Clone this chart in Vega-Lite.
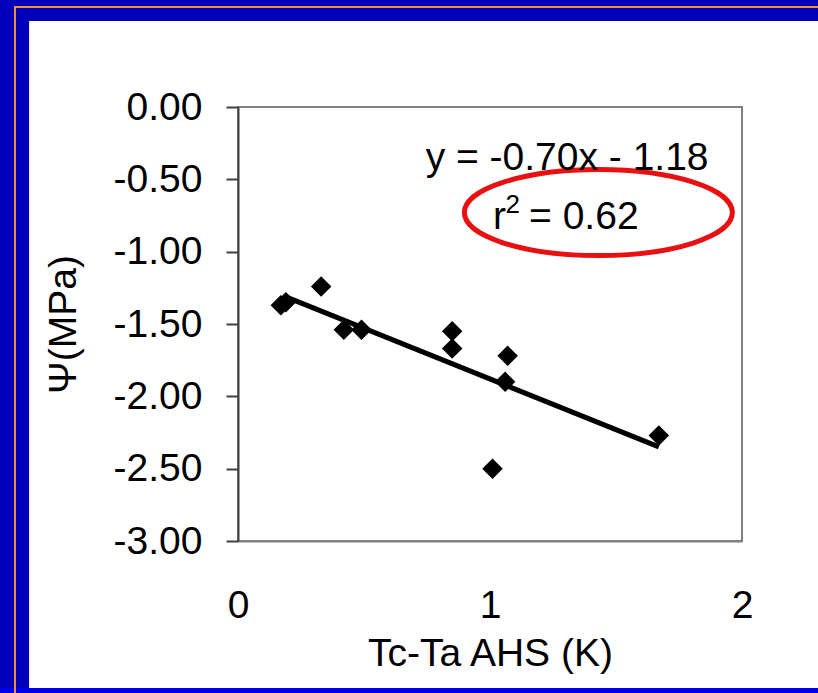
{
  "$schema": "https://vega.github.io/schema/vega-lite/v6.json",
  "width": 504,
  "height": 434,
  "autosize": {"type": "none"},
  "padding": {"left": 238, "top": 107, "right": 76, "bottom": 152},
  "background": "#0000BB",
  "config": {"view": {"stroke": null}, "font": "Liberation Sans"},
  "datasets": {
    "strip": [{"x": -1.0, "x2": 2.6, "y": -4.016, "y2": -4.6}],
    "panel": [{"x": -0.829, "x2": 2.6, "y": 0.594, "y2": -4.016}],
    "orange": [{"x": -0.885, "x2": 2.8, "y": 0.691, "y2": -4.6}],
    "box": [{"x": 0, "x2": 2, "y": 0, "y2": -3}],
    "fit": [{"x": 0.18, "y": -1.306}, {"x": 1.67, "y": -2.349}],
    "obs": [
      {"x": 0.17, "y": -1.37},
      {"x": 0.19, "y": -1.35},
      {"x": 0.33, "y": -1.24},
      {"x": 0.42, "y": -1.54},
      {"x": 0.49, "y": -1.54},
      {"x": 0.85, "y": -1.55},
      {"x": 0.85, "y": -1.67},
      {"x": 1.07, "y": -1.72},
      {"x": 1.06, "y": -1.90},
      {"x": 1.01, "y": -2.50},
      {"x": 1.67, "y": -2.27}
    ],
    "ellipse": [{"x": 1.43, "y": -0.73}],
    "eq": [{"x": 1.306, "y": -0.353, "label": "y = -0.70x - 1.18"}],
    "r": [{"x": 1.012, "y": -0.76, "label": "r"}],
    "sup": [{"x": 1.062, "y": -0.68, "label": "2"}],
    "rv": [{"x": 1.155, "y": -0.76, "label": "= 0.62"}]
  },
  "encoding": {
    "x": {
      "field": "x", "type": "quantitative",
      "scale": {"domain": [0, 2], "nice": false, "zero": false},
      "axis": {
        "tickCount": 2, "labelExpr": "format(datum.value, 'd')", "ticks": false, "grid": false,
        "labelFlush": false, "labelOverlap": false, "labelBound": false,
        "domainColor": "#808080", "domainWidth": 2,
        "labelFontSize": 39, "labelColor": "#000000", "labelPadding": 45, "labelFont": "Liberation Sans",
        "title": "Tc-Ta AHS (K)", "titleFontSize": 39, "titleFontWeight": "normal", "titleColor": "#000000",
        "titlePadding": 9, "titleFont": "Liberation Sans", "zindex": 1
      }
    },
    "y": {
      "field": "y", "type": "quantitative",
      "scale": {"domain": [-3, 0], "nice": false, "zero": false},
      "axis": {
        "values": [-3, -2.5, -2, -1.5, -1, -0.5, 0],
        "labelExpr": "replace(format(datum.value, '.2f'), '\u2212', '-')",
        "grid": false, "labelOverlap": false,
        "domainColor": "#404040", "domainWidth": 2, "tickColor": "#404040", "tickWidth": 2, "tickSize": 12,
        "labelFontSize": 39, "labelColor": "#000000", "labelPadding": 24, "labelFont": "Liberation Sans",
        "title": "Ψ(MPa)", "titleFontSize": 39, "titleFontWeight": "normal", "titleColor": "#000000",
        "titlePadding": 30, "titleFont": "Liberation Sans", "zindex": 1
      }
    }
  },
  "layer": [
    {"data": {"name": "strip"}, "mark": {"type": "rect", "fill": "#0000EE", "clip": false},
     "encoding": {"x2": {"field": "x2"}, "y2": {"field": "y2"}}},
    {"data": {"name": "panel"}, "mark": {"type": "rect", "fill": "#FFFFFF", "clip": false},
     "encoding": {"x2": {"field": "x2"}, "y2": {"field": "y2"}}},
    {"data": {"name": "orange"}, "mark": {"type": "rect", "fill": null, "filled": false, "stroke": "#F0903A", "strokeWidth": 2, "clip": false},
     "encoding": {"x2": {"field": "x2"}, "y2": {"field": "y2"}}},
    {"data": {"name": "box"}, "mark": {"type": "rect", "filled": false, "stroke": "#808080", "strokeWidth": 2},
     "encoding": {"x2": {"field": "x2"}, "y2": {"field": "y2"}}},
    {"data": {"name": "fit"}, "mark": {"type": "line", "color": "#000000", "strokeWidth": 5}, "encoding": {}},
    {"data": {"name": "obs"}, "mark": {"type": "point", "shape": "diamond", "filled": true, "color": "#000000", "size": 420, "opacity": 1}, "encoding": {}},
    {"data": {"name": "ellipse"}, "mark": {"type": "point", "shape": "M-1,0A1,0.321,0,1,1,1,0A1,0.321,0,1,1,-1,0Z", "filled": false, "stroke": "#E81010", "strokeWidth": 5, "size": 71824, "opacity": 1, "clip": false}, "encoding": {}},
    {"data": {"name": "eq"}, "mark": {"type": "text", "fontSize": 39, "align": "center", "baseline": "middle", "color": "#000000", "font": "Liberation Sans"},
     "encoding": {"text": {"field": "label"}}},
    {"data": {"name": "r"}, "mark": {"type": "text", "fontSize": 39, "align": "left", "baseline": "middle", "color": "#000000", "font": "Liberation Sans"},
     "encoding": {"text": {"field": "label"}}},
    {"data": {"name": "sup"}, "mark": {"type": "text", "fontSize": 26, "align": "left", "baseline": "middle", "color": "#000000", "font": "Liberation Sans"},
     "encoding": {"text": {"field": "label"}}},
    {"data": {"name": "rv"}, "mark": {"type": "text", "fontSize": 39, "align": "left", "baseline": "middle", "color": "#000000", "font": "Liberation Sans"},
     "encoding": {"text": {"field": "label"}}}
  ]
}
